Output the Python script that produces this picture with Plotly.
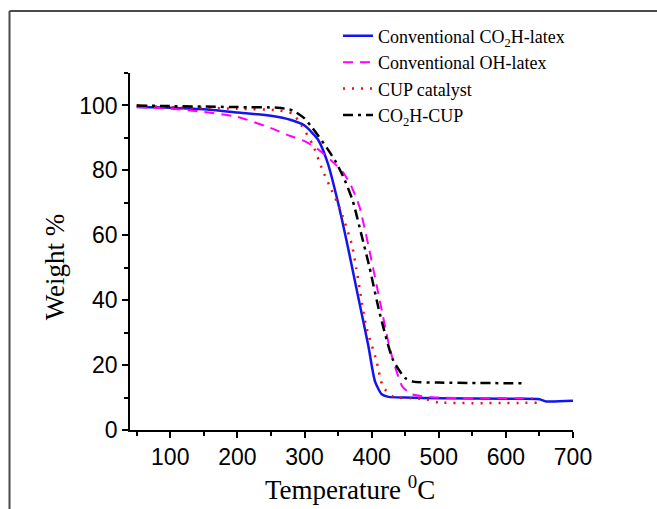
import plotly.graph_objects as go

# Thermogravimetric curves: temperature (°C) vs. remaining weight (%)
temp_co2h_latex = [50, 100, 150, 200, 250, 280, 300, 320, 335, 350, 365, 380, 395, 405, 415, 425, 450, 500, 600, 650, 660, 700]
wt_co2h_latex = [99.5, 99.3, 98.8, 97.8, 96.8, 95.5, 93.8, 89.5, 82, 70, 56, 41, 26, 15, 11, 10.2, 10, 9.8, 9.6, 9.5, 8.8, 9]

temp_oh_latex = [50, 100, 150, 200, 250, 280, 300, 320, 340, 357, 370, 382, 395, 412, 425, 432, 446, 460, 472, 500, 640]
wt_oh_latex = [99.5, 99, 98, 96.5, 93, 90.5, 89, 86.5, 83, 79.5, 75, 68.7, 57, 40, 27, 21.5, 13.3, 11, 10.5, 10, 9.8]

temp_cup = [50, 100, 200, 260, 282, 295, 312, 327, 340, 352, 370, 377, 392, 407, 417, 432, 460, 480, 500, 646]
wt_cup = [100, 99.5, 99, 98.5, 97.5, 94, 88, 80, 74, 68.6, 57.5, 50, 31.8, 21.5, 13.3, 10.3, 9.8, 9.5, 8.5, 8.4]

temp_co2h_cup = [50, 100, 200, 260, 282, 300, 312, 333, 347, 360, 372, 385, 397, 412, 432, 450, 462, 500, 625]
wt_co2h_cup = [100, 99.8, 99.5, 99.3, 98.5, 96, 93, 87, 82.5, 77, 70.5, 60, 50, 36, 21.5, 16, 14.9, 14.6, 14.4]

series_names = [
    "Conventional CO<sub>2</sub>H-latex",
    "Conventional OH-latex",
    "CUP catalyst",
    "CO<sub>2</sub>H-CUP",
]

x_tick_values = [100, 200, 300, 400, 500, 600, 700]
y_tick_values = [0, 20, 40, 60, 80, 100]

fig = go.Figure()
fig.add_trace(go.Scatter(x=temp_co2h_latex, y=wt_co2h_latex, mode="lines", name=series_names[0],
                         line=dict(color="#1414f0", width=2.5, shape="spline", smoothing=0.6)))
fig.add_trace(go.Scatter(x=temp_oh_latex, y=wt_oh_latex, mode="lines", name=series_names[1],
                         line=dict(color="#ff00ff", width=2, dash="10px,7px", shape="spline", smoothing=0.6)))
fig.add_trace(go.Scatter(x=temp_cup, y=wt_cup, mode="lines", name=series_names[2],
                         line=dict(color="#ee1111", width=2.5, dash="2px,7px", shape="spline", smoothing=0.6)))
fig.add_trace(go.Scatter(x=temp_co2h_cup, y=wt_co2h_cup, mode="lines", name=series_names[3],
                         line=dict(color="#000000", width=2.5, dash="10px,5px,3px,5px", shape="spline", smoothing=0.6)))

W, H = 657, 509
L, R, T, B = 130, 84, 72.5, 79
pw, ph = W - L - R, H - T - B

def px_to_paper_x(px):
    return (px - L) / pw

def px_to_paper_y(py):
    return (H - B - py) / ph

tick_font = dict(family="Liberation Sans, Arial", size=23, color="black")
serif = "Liberation Serif, Times New Roman"

fig.update_layout(
    width=W, height=H,
    margin=dict(l=L, r=R, t=T, b=B, pad=0),
    paper_bgcolor="white", plot_bgcolor="white",
    showlegend=True,
    legend=dict(
        x=px_to_paper_x(338), y=px_to_paper_y(17), xanchor="left", yanchor="top",
        bgcolor="rgba(0,0,0,0)", borderwidth=0,
        font=dict(family=serif, size=18, color="black"),
        tracegroupgap=0,
    ),
    xaxis=dict(
        range=[40, 700], tickmode="array", tickvals=x_tick_values,
        ticks="outside", ticklen=6, tickwidth=1.5, tickcolor="black",
        showline=True, linecolor="black", linewidth=1.5, showgrid=False, zeroline=False,
        tickfont=tick_font,
        minor=dict(ticks="outside", ticklen=4, tickwidth=1.5, tickcolor="black", tick0=0, dtick=50, showgrid=False),
    ),
    yaxis=dict(
        range=[0, 110], tickmode="array", tickvals=y_tick_values,
        ticks="outside", ticklen=6, tickwidth=1.5, tickcolor="black",
        showline=True, linecolor="black", linewidth=1.5, showgrid=False, zeroline=False,
        tickfont=tick_font,
        minor=dict(ticks="outside", ticklen=4, tickwidth=1.5, tickcolor="black", tick0=0, dtick=10, showgrid=False),
    ),
    annotations=[
        dict(text="Weight %", textangle=-90, xref="paper", yref="paper",
             x=px_to_paper_x(55), y=px_to_paper_y(267), xanchor="center", yanchor="middle",
             showarrow=False, font=dict(family=serif, size=27, color="black")),
        dict(text="Temperature <sup>0</sup>C", xref="paper", yref="paper",
             x=px_to_paper_x(350), y=px_to_paper_y(488), xanchor="center", yanchor="middle",
             showarrow=False, font=dict(family=serif, size=27, color="black")),
    ],
    shapes=[
        # frame around the figure (top and left edges)
        dict(type="line", xref="paper", yref="paper",
             x0=px_to_paper_x(9.5), x1=px_to_paper_x(W + 5), y0=px_to_paper_y(10.5), y1=px_to_paper_y(10.5),
             line=dict(color="#4a4a4a", width=2)),
        dict(type="line", xref="paper", yref="paper",
             x0=px_to_paper_x(9.5), x1=px_to_paper_x(9.5), y0=px_to_paper_y(10.5), y1=px_to_paper_y(H + 5),
             line=dict(color="#4a4a4a", width=2)),
    ],
)

fig.write_html("out.html")
